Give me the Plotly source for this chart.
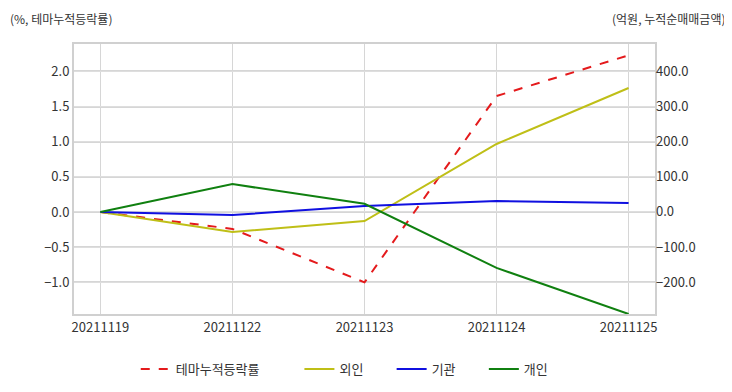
import plotly.graph_objects as go

dates = ["20211119", "20211122", "20211123", "20211124", "20211125"]
theme_rate = [0.0, -0.24, -1.0, 1.65, 2.23]
foreign = [0.0, -57.0, -26.0, 193.0, 352.0]
institution = [0.0, -9.0, 17.0, 31.0, 25.0]
individual = [0.0, 79.0, 23.0, -159.0, -290.0]

font = "Noto Sans CJK KR, Noto Sans, sans-serif"
fig = go.Figure()
fig.add_trace(go.Scatter(x=dates, y=theme_rate, name="테마누적등락률            ", mode="lines",
                         line=dict(color="#e41a1c", width=2, dash="dash"), yaxis="y"))
fig.add_trace(go.Scatter(x=dates, y=foreign, name="외인        ", mode="lines",
                         line=dict(color="#bfbf17", width=2), yaxis="y2"))
fig.add_trace(go.Scatter(x=dates, y=institution, name="기관        ", mode="lines",
                         line=dict(color="#1010e0", width=2), yaxis="y2"))
fig.add_trace(go.Scatter(x=dates, y=individual, name="개인", mode="lines",
                         line=dict(color="#108010", width=2), yaxis="y2"))

fig.update_layout(
    width=724, height=384,
    margin=dict(l=66, r=77, t=36, b=78, autoexpand=False),
    paper_bgcolor="white", plot_bgcolor="white",
    font=dict(family=font, size=13, color="#333333"),
    showlegend=True,
    legend=dict(orientation="h", x=0.466, xanchor="center", y=-0.148, yanchor="top",
                font=dict(size=13, color="#333333")),
    xaxis=dict(type="category", range=[-0.2, 4.2], showgrid=True, gridcolor="#d6d6d6",
               gridwidth=1, showline=True, linecolor="#d0d0d0", linewidth=2, mirror=True,
               ticks="", tickfont=dict(size=13), zeroline=False, automargin=False),
    yaxis=dict(range=[-1.45, 2.39], tickvals=[-1.0, -0.5, 0.0, 0.5, 1.0, 1.5, 2.0],
               tickformat=".1f", showgrid=True, gridcolor="#d6d6d6", gridwidth=2,
               showline=True, linecolor="#d0d0d0", linewidth=2, mirror=True,
               zeroline=False, ticks="", tickfont=dict(size=13), automargin=False),
    yaxis2=dict(overlaying="y", side="right", range=[-290, 477],
                tickvals=[-200, -100, 0, 100, 200, 300, 400], tickformat=".1f",
                showgrid=True, gridcolor="#dedede", gridwidth=1, zeroline=False,
                showline=False, ticks="", tickfont=dict(size=13), automargin=False),
    annotations=[
        dict(text="(%, 테마누적등락률)", xref="paper", yref="paper", x=-0.1135, y=1.096,
             xanchor="left", yanchor="middle", showarrow=False,
             font=dict(size=12, color="#333333")),
        dict(text="(억원, 누적순매매금액)", xref="paper", yref="paper", x=1.125, y=1.096,
             xanchor="right", yanchor="middle", showarrow=False,
             font=dict(size=12, color="#333333")),
    ],
)
fig.write_html("out.html")
